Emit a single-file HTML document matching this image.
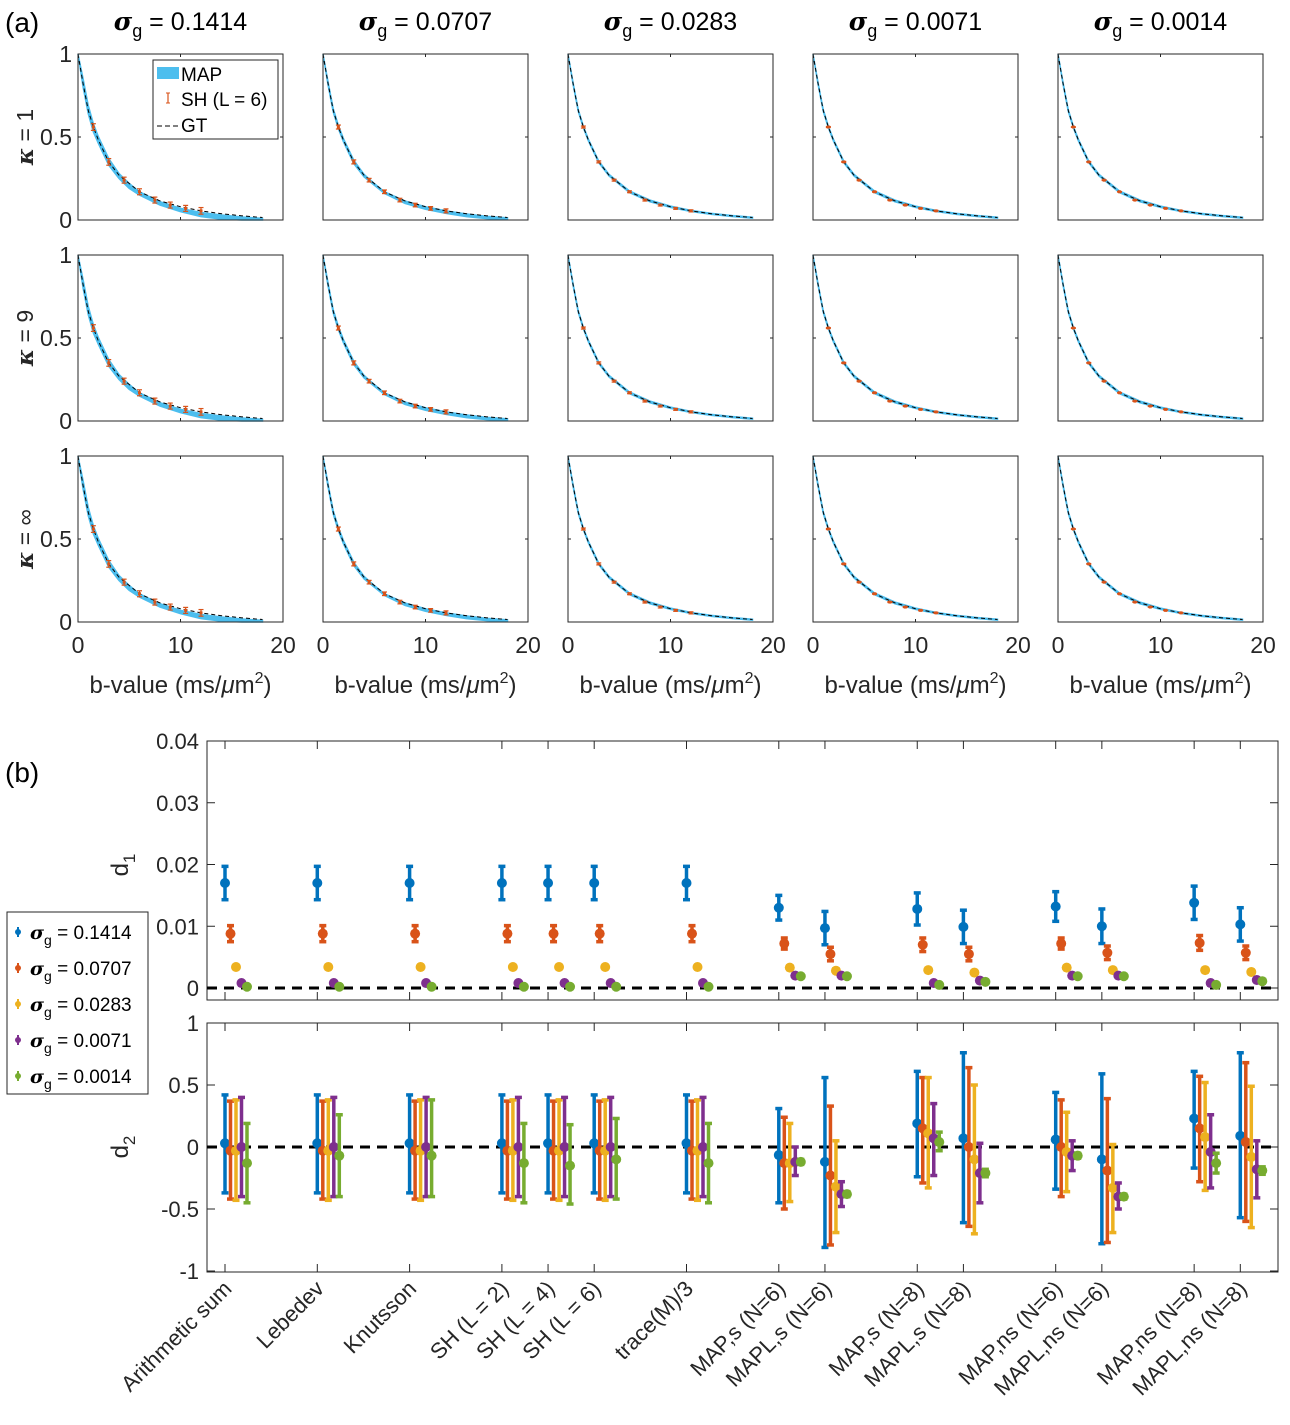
<!DOCTYPE html>
<html><head><meta charset="utf-8"><style>
body{margin:0;background:#fff;}
svg{display:block;font-family:"Liberation Sans",sans-serif;}
</style></head><body>
<svg id="fig" width="1290" height="1425" viewBox="0 0 1290 1425" xmlns="http://www.w3.org/2000/svg">
<text x="5" y="32" font-size="28">(a)</text>
<text x="5" y="782" font-size="28">(b)</text>
<g id="topG"></g>
<g id="bottom"></g>
</svg>
<script>
// ---------- Panel (a) data ----------
const sigmaLabels = ["0.1414","0.0707","0.0283","0.0071","0.0014"];
const kappaLabels = ["1","9","∞"];
const bGrid = [0,0.5,1,1.5,2,3,4,5,6,8,10,12,14,16,18];
const gtVals = [1.0,0.82,0.66,0.56,0.48,0.35,0.27,0.22,0.17,0.115,0.08,0.055,0.038,0.025,0.015];
const mapLoCol1 = [1.0,0.80,0.64,0.53,0.46,0.33,0.25,0.19,0.15,0.09,0.05,0.02,0.005,0,0];
const mapHiCol1 = [1.0,0.85,0.69,0.58,0.50,0.37,0.28,0.22,0.17,0.11,0.07,0.045,0.03,0.018,0.01];
const mapLoCol2 = [1.0,0.81,0.65,0.55,0.47,0.34,0.26,0.21,0.16,0.10,0.065,0.04,0.02,0.008,0.003];
const mapHiCol2 = [1.0,0.83,0.67,0.57,0.49,0.36,0.275,0.22,0.17,0.115,0.08,0.055,0.036,0.022,0.013];
const mapLoRest = [1.0,0.815,0.655,0.555,0.475,0.345,0.265,0.215,0.165,0.11,0.076,0.051,0.034,0.021,0.011];
const mapHiRest = [1.0,0.825,0.665,0.565,0.485,0.355,0.275,0.225,0.175,0.12,0.084,0.058,0.04,0.027,0.017];
const shB = [1.5,3,4.5,6,7.5,9,10.5,12];
const shVals = [0.56,0.35,0.24,0.17,0.12,0.09,0.07,0.055];
const shErr = [0.02,0.02,0.018,0.018,0.018,0.018,0.018,0.02];
const shErrScale = [1,0.6,0.3,0.15,0.1];

// ---------- Panel (b) data ----------
const methods = ["Arithmetic sum","Lebedev","Knutsson","SH (L = 2)","SH (L = 4)","SH (L = 6)","trace(M)/3","MAP,s (N=6)","MAPL,s (N=6)","MAP,s (N=8)","MAPL,s (N=8)","MAP,ns (N=6)","MAPL,ns (N=6)","MAP,ns (N=8)","MAPL,ns (N=8)"];
const methodPos = [1,2,3,4,4.5,5,6,7,7.5,8.5,9,10,10.5,11.5,12];
const seriesNames = ["0.1414","0.0707","0.0283","0.0071","0.0014"];
const d1Mean = [
 [0.017,0.017,0.017,0.017,0.017,0.017,0.017,0.013,0.0097,0.0128,0.0099,0.0132,0.0100,0.0138,0.0103],
 [0.0088,0.0088,0.0088,0.0088,0.0088,0.0088,0.0088,0.0072,0.0055,0.0070,0.0055,0.0072,0.0057,0.0073,0.0057],
 [0.0034,0.0034,0.0034,0.0034,0.0034,0.0034,0.0034,0.0033,0.0028,0.0029,0.0025,0.0033,0.0029,0.0029,0.0026],
 [0.0008,0.0008,0.0008,0.0008,0.0008,0.0008,0.0008,0.0020,0.0020,0.0008,0.0012,0.0020,0.0020,0.0008,0.0013],
 [0.0002,0.0002,0.0002,0.0002,0.0002,0.0002,0.0002,0.0019,0.0019,0.0005,0.0010,0.0019,0.0019,0.0005,0.0011]];
const d1Err = [
 [0.0027,0.0027,0.0027,0.0027,0.0027,0.0027,0.0027,0.002,0.0027,0.0026,0.0027,0.0024,0.0028,0.0027,0.0027],
 [0.0013,0.0013,0.0013,0.0013,0.0013,0.0013,0.0013,0.0009,0.0011,0.0011,0.0011,0.0009,0.0011,0.0012,0.0011],
 [0.0003,0.0003,0.0003,0.0003,0.0003,0.0003,0.0003,0.0003,0.0003,0.0003,0.0003,0.0003,0.0003,0.0003,0.0003],
 [0.0001,0.0001,0.0001,0.0001,0.0001,0.0001,0.0001,0.0002,0.0002,0.0001,0.0002,0.0002,0.0002,0.0001,0.0002],
 [0.0001,0.0001,0.0001,0.0001,0.0001,0.0001,0.0001,0.0002,0.0002,0.0001,0.0002,0.0002,0.0002,0.0001,0.0002]];
const d2Mean = [
 [0.03,0.03,0.03,0.03,0.03,0.03,0.03,-0.065,-0.12,0.19,0.07,0.06,-0.10,0.23,0.09],
 [-0.03,-0.03,-0.03,-0.03,-0.03,-0.03,-0.03,-0.13,-0.23,0.15,0.0,0.0,-0.19,0.15,0.04],
 [-0.03,-0.03,-0.03,-0.03,-0.03,-0.03,-0.03,-0.13,-0.32,0.11,-0.10,-0.04,-0.33,0.08,-0.08],
 [0.0,0.0,0.0,0.0,0.0,0.0,0.0,-0.12,-0.38,0.07,-0.21,-0.07,-0.40,-0.04,-0.18],
 [-0.13,-0.07,-0.07,-0.13,-0.15,-0.10,-0.13,-0.12,-0.38,0.04,-0.21,-0.07,-0.40,-0.13,-0.19]];
const d2Lo = [
 [-0.37,-0.37,-0.37,-0.37,-0.37,-0.37,-0.37,-0.45,-0.81,-0.24,-0.61,-0.34,-0.78,-0.17,-0.57],
 [-0.42,-0.42,-0.42,-0.42,-0.42,-0.42,-0.42,-0.50,-0.79,-0.29,-0.64,-0.40,-0.77,-0.28,-0.60],
 [-0.43,-0.43,-0.43,-0.43,-0.43,-0.43,-0.43,-0.44,-0.69,-0.33,-0.70,-0.36,-0.69,-0.35,-0.65],
 [-0.40,-0.40,-0.40,-0.40,-0.40,-0.40,-0.40,-0.23,-0.48,-0.23,-0.45,-0.19,-0.50,-0.33,-0.41],
 [-0.45,-0.40,-0.40,-0.45,-0.46,-0.42,-0.45,-0.14,-0.40,-0.03,-0.24,-0.09,-0.42,-0.21,-0.22]];
const d2Hi = [
 [0.42,0.42,0.42,0.42,0.42,0.42,0.42,0.31,0.56,0.61,0.76,0.44,0.59,0.61,0.76],
 [0.37,0.37,0.37,0.37,0.37,0.37,0.37,0.24,0.33,0.56,0.64,0.38,0.39,0.57,0.68],
 [0.38,0.38,0.38,0.38,0.38,0.38,0.38,0.19,0.05,0.56,0.50,0.28,0.02,0.52,0.49],
 [0.40,0.40,0.40,0.40,0.40,0.40,0.40,0.00,-0.28,0.35,0.03,0.05,-0.29,0.26,0.05],
 [0.19,0.26,0.38,0.19,0.18,0.23,0.19,-0.10,-0.36,0.12,-0.18,-0.05,-0.38,-0.05,-0.16]];
const d1Ticks = [0,0.01,0.02,0.03,0.04];
const d1TickLabels = ["0","0.01","0.02","0.03","0.04"];
const d2Ticks = [-1,-0.5,0,0.5,1];
const d2TickLabels = ["-1","-0.5","0","0.5","1"];

const NS="http://www.w3.org/2000/svg";
function mk(tag,attrs,parent,text){const e=document.createElementNS(NS,tag);for(const k in attrs)e.setAttribute(k,attrs[k]);if(text!==undefined)e.textContent=text;parent.appendChild(e);return e;}
const colors=["#0072BD","#D95319","#EDB120","#7E2F8E","#77AC30"];

// ---------- Draw panel (a) ----------
const topG=document.getElementById('topG');
for(let c=0;c<5;c++){
  const L=78+245*c, W=205;
  const tt=mk('text',{x:L+W/2,y:30,'font-size':25,'text-anchor':'middle'},topG);
  
  
  mk('tspan',{'font-style':'italic','font-weight':'bold','font-family':'DejaVu Serif, serif'},tt,'σ');
  mk('tspan',{'font-size':18,dy:7},tt,'g');
  mk('tspan',{dy:-7},tt,' = '+sigmaLabels[c]);
  for(let r=0;r<3;r++){
    const T=54+201*r, H=166;
    const g=mk('g',{},topG);
    
    
    const xs=b=>L+b/20*W, ys=v=>T+H-v*H;
    const lo=c==0?mapLoCol1:(c==1?mapLoCol2:mapLoRest);
    const hi=c==0?mapHiCol1:(c==1?mapHiCol2:mapHiRest);
    let d='';
    bGrid.forEach((b,i)=>{d+=(i?'L':'M')+xs(b)+','+ys(hi[i]);});
    for(let i=bGrid.length-1;i>=0;i--)d+='L'+xs(bGrid[i])+','+ys(lo[i]);
    const band=mk('path',{d:d+'Z',fill:'#4DBEEE',stroke:'#4DBEEE','stroke-width':1.5},g);
    
    
    let gd='';
    bGrid.forEach((b,i)=>{gd+=(i?'L':'M')+xs(b)+','+ys(gtVals[i]);});
    const gt=mk('path',{d:gd,fill:'none',stroke:'#000','stroke-width':1,'stroke-dasharray':'4,3'},g);
    
    
    shB.forEach((b,i)=>{
      const e=shErr[i]*shErrScale[c], x=xs(b);
      const eb=mk('g',{stroke:'#D95319','stroke-width':1.2},g);
      
      
      mk('line',{x1:x,x2:x,y1:ys(shVals[i]+e),y2:ys(shVals[i]-e)},eb);
      mk('line',{x1:x-2.5,x2:x+2.5,y1:ys(shVals[i]+e),y2:ys(shVals[i]+e)},eb);
      mk('line',{x1:x-2.5,x2:x+2.5,y1:ys(shVals[i]-e),y2:ys(shVals[i]-e)},eb);
      mk('rect',{x:x-1.5,y:ys(shVals[i])-1.5,width:3,height:3,fill:'#D95319',stroke:'none'},eb);
    });
    mk('rect',{x:L,y:T,width:W,height:H,fill:'none',stroke:'#262626','stroke-width':1},g);
    [0,0.5,1].forEach(v=>{mk('line',{x1:L,x2:L+3,y1:ys(v),y2:ys(v),stroke:'#262626'},g);mk('line',{x1:L+W-3,x2:L+W,y1:ys(v),y2:ys(v),stroke:'#262626'},g);});
    [0,10,20].forEach(v=>{mk('line',{x1:xs(v),x2:xs(v),y1:T+H,y2:T+H-3,stroke:'#262626'},g);mk('line',{x1:xs(v),x2:xs(v),y1:T,y2:T+3,stroke:'#262626'},g);});
    if(c==0){
      [[0,'0'],[0.5,'0.5'],[1,'1']].forEach(([v,s])=>{const t=mk('text',{x:L-6,y:ys(v)+8,'font-size':23,'text-anchor':'end',fill:'#262626'},g,s);});
      const kl=mk('text',{transform:'translate(33,'+(T+H/2)+') rotate(-90)','font-size':23,'text-anchor':'middle',fill:'#262626'},g);
      
      
      mk('tspan',{'font-style':'italic','font-weight':'bold','font-family':'DejaVu Serif, serif'},kl,'κ');
      mk('tspan',{},kl,' = '+kappaLabels[r]);
    }
    if(r==2){
      [[0,'0'],[10,'10'],[20,'20']].forEach(([v,s])=>{const t=mk('text',{x:xs(v),y:T+H+31,'font-size':23,'text-anchor':'middle',fill:'#262626'},g,s);});
      const xl=mk('text',{x:L+W/2,y:693,'font-size':24,'text-anchor':'middle',fill:'#262626'},g);
      
      
      mk('tspan',{},xl,'b-value (ms/');
      mk('tspan',{'font-style':'italic'},xl,'μ');
      mk('tspan',{},xl,'m');
      mk('tspan',{'font-size':16,dy:-10},xl,'2');
      mk('tspan',{dy:10},xl,')');
    }
  }
}
// legend (a)
{
  const lg=mk('g',{},topG);
  
  
  mk('rect',{x:153,y:60,width:125,height:79,fill:'#fff',stroke:'#262626','stroke-width':1},lg);
  mk('rect',{x:157,y:67,width:22,height:12,fill:'#4DBEEE'},lg);
  mk('text',{x:181,y:81,'font-size':19},lg,'MAP');
  mk('line',{x1:168,x2:168,y1:93,y2:103,stroke:'#D95319','stroke-width':1.2},lg);
  mk('line',{x1:166,x2:170,y1:93,y2:93,stroke:'#D95319'},lg);
  mk('line',{x1:166,x2:170,y1:103,y2:103,stroke:'#D95319'},lg);
  mk('text',{x:181,y:106,'font-size':19},lg,'SH (L = 6)');
  mk('line',{x1:157,x2:179,y1:126,y2:126,stroke:'#000','stroke-dasharray':'5,3'},lg);
  mk('text',{x:181,y:132,'font-size':19},lg,'GT');
}

// ---------- Draw panel (b) ----------
const bot=document.getElementById('bottom');
const BL=207,BR=1278;
const xb=p=>225+(p-1)*92.3;
const offs=[0,5.5,11,16.5,22];
function axesBox(T,B,name){const r=mk('rect',{x:BL,y:T,width:BR-BL,height:B-T,fill:'none',stroke:'#262626','stroke-width':1},bot);}
// d1
const y1=v=>988-v*6175;
axesBox(741,1000,'d1-axes');
d1Ticks.forEach((v,i)=>{mk('line',{x1:BL,x2:BL+8,y1:y1(v),y2:y1(v),stroke:'#262626'},bot);mk('line',{x1:BR-8,x2:BR,y1:y1(v),y2:y1(v),stroke:'#262626'},bot);
  const t=mk('text',{x:BL-8,y:y1(v)+8,'font-size':22,'text-anchor':'end',fill:'#262626'},bot,d1TickLabels[i]);});
methodPos.forEach(p=>{mk('line',{x1:xb(p),x2:xb(p),y1:1000,y2:992,stroke:'#262626'},bot);mk('line',{x1:xb(p),x2:xb(p),y1:741,y2:749,stroke:'#262626'},bot);});
const z1=mk('line',{x1:BL,x2:BR,y1:y1(0),y2:y1(0),stroke:'#000','stroke-width':3,'stroke-dasharray':'10,7'},bot);

function errbar(x,yc,yl,yh,col,name){
  const g=mk('g',{stroke:col,'stroke-width':3.5,fill:col},bot);
  
  
  mk('line',{x1:x,x2:x,y1:yl,y2:yh},g);
  mk('line',{x1:x-3.5,x2:x+3.5,y1:yl,y2:yl},g);
  mk('line',{x1:x-3.5,x2:x+3.5,y1:yh,y2:yh},g);
  mk('circle',{cx:x,cy:yc,r:5,stroke:'none'},g);
}
for(let s=0;s<5;s++)methodPos.forEach((p,i)=>{
  const m=d1Mean[s][i],e=d1Err[s][i];
  errbar(xb(p)+offs[s],y1(m),y1(m-e),y1(m+e),colors[s],'d1-point');
});
const yl1=mk('text',{transform:'translate(128,865) rotate(-90)','font-size':24,'text-anchor':'middle',fill:'#262626'},bot);

mk('tspan',{},yl1,'d');mk('tspan',{'font-size':17,dy:7},yl1,'1');
// d2
const y2=v=>1147-v*124;
axesBox(1023,1272,'d2-axes');
d2Ticks.forEach((v,i)=>{mk('line',{x1:BL,x2:BL+8,y1:y2(v),y2:y2(v),stroke:'#262626'},bot);mk('line',{x1:BR-8,x2:BR,y1:y2(v),y2:y2(v),stroke:'#262626'},bot);
  const t=mk('text',{x:BL-8,y:y2(v)+8,'font-size':22,'text-anchor':'end',fill:'#262626'},bot,d2TickLabels[i]);});
methodPos.forEach((p,i)=>{mk('line',{x1:xb(p),x2:xb(p),y1:1272,y2:1264,stroke:'#262626'},bot);mk('line',{x1:xb(p),x2:xb(p),y1:1023,y2:1031,stroke:'#262626'},bot);
  const t=mk('text',{transform:'translate('+(xb(p)+8)+',1290) rotate(-45)','font-size':22,'text-anchor':'end',fill:'#262626'},bot,methods[i]);
  });
const z2=mk('line',{x1:BL,x2:BR,y1:y2(0),y2:y2(0),stroke:'#000','stroke-width':3,'stroke-dasharray':'10,7'},bot);

for(let s=0;s<5;s++)methodPos.forEach((p,i)=>{
  errbar(xb(p)+offs[s],y2(d2Mean[s][i]),y2(d2Lo[s][i]),y2(d2Hi[s][i]),colors[s],'d2-point');
});
const yl2=mk('text',{transform:'translate(128,1147) rotate(-90)','font-size':24,'text-anchor':'middle',fill:'#262626'},bot);

mk('tspan',{},yl2,'d');mk('tspan',{'font-size':17,dy:7},yl2,'2');
// legend (b)
{
  const lg=mk('g',{},bot);
  
  
  mk('rect',{x:7,y:912,width:141,height:182,fill:'#fff',stroke:'#262626','stroke-width':1},lg);
  seriesNames.forEach((n,i)=>{
    const y=932+36*i;
    mk('line',{x1:18,x2:18,y1:y-5,y2:y+5,stroke:colors[i],'stroke-width':2},lg);
    mk('circle',{cx:18,cy:y,r:3,fill:colors[i]},lg);
    const t=mk('text',{x:30,y:y+7,'font-size':19},lg);
    mk('tspan',{'font-style':'italic','font-weight':'bold','font-family':'DejaVu Serif, serif'},t,'σ');
    mk('tspan',{'font-size':14,dy:6},t,'g');
    mk('tspan',{dy:-6},t,' = '+n);
  });
}
</script>
</body></html>
